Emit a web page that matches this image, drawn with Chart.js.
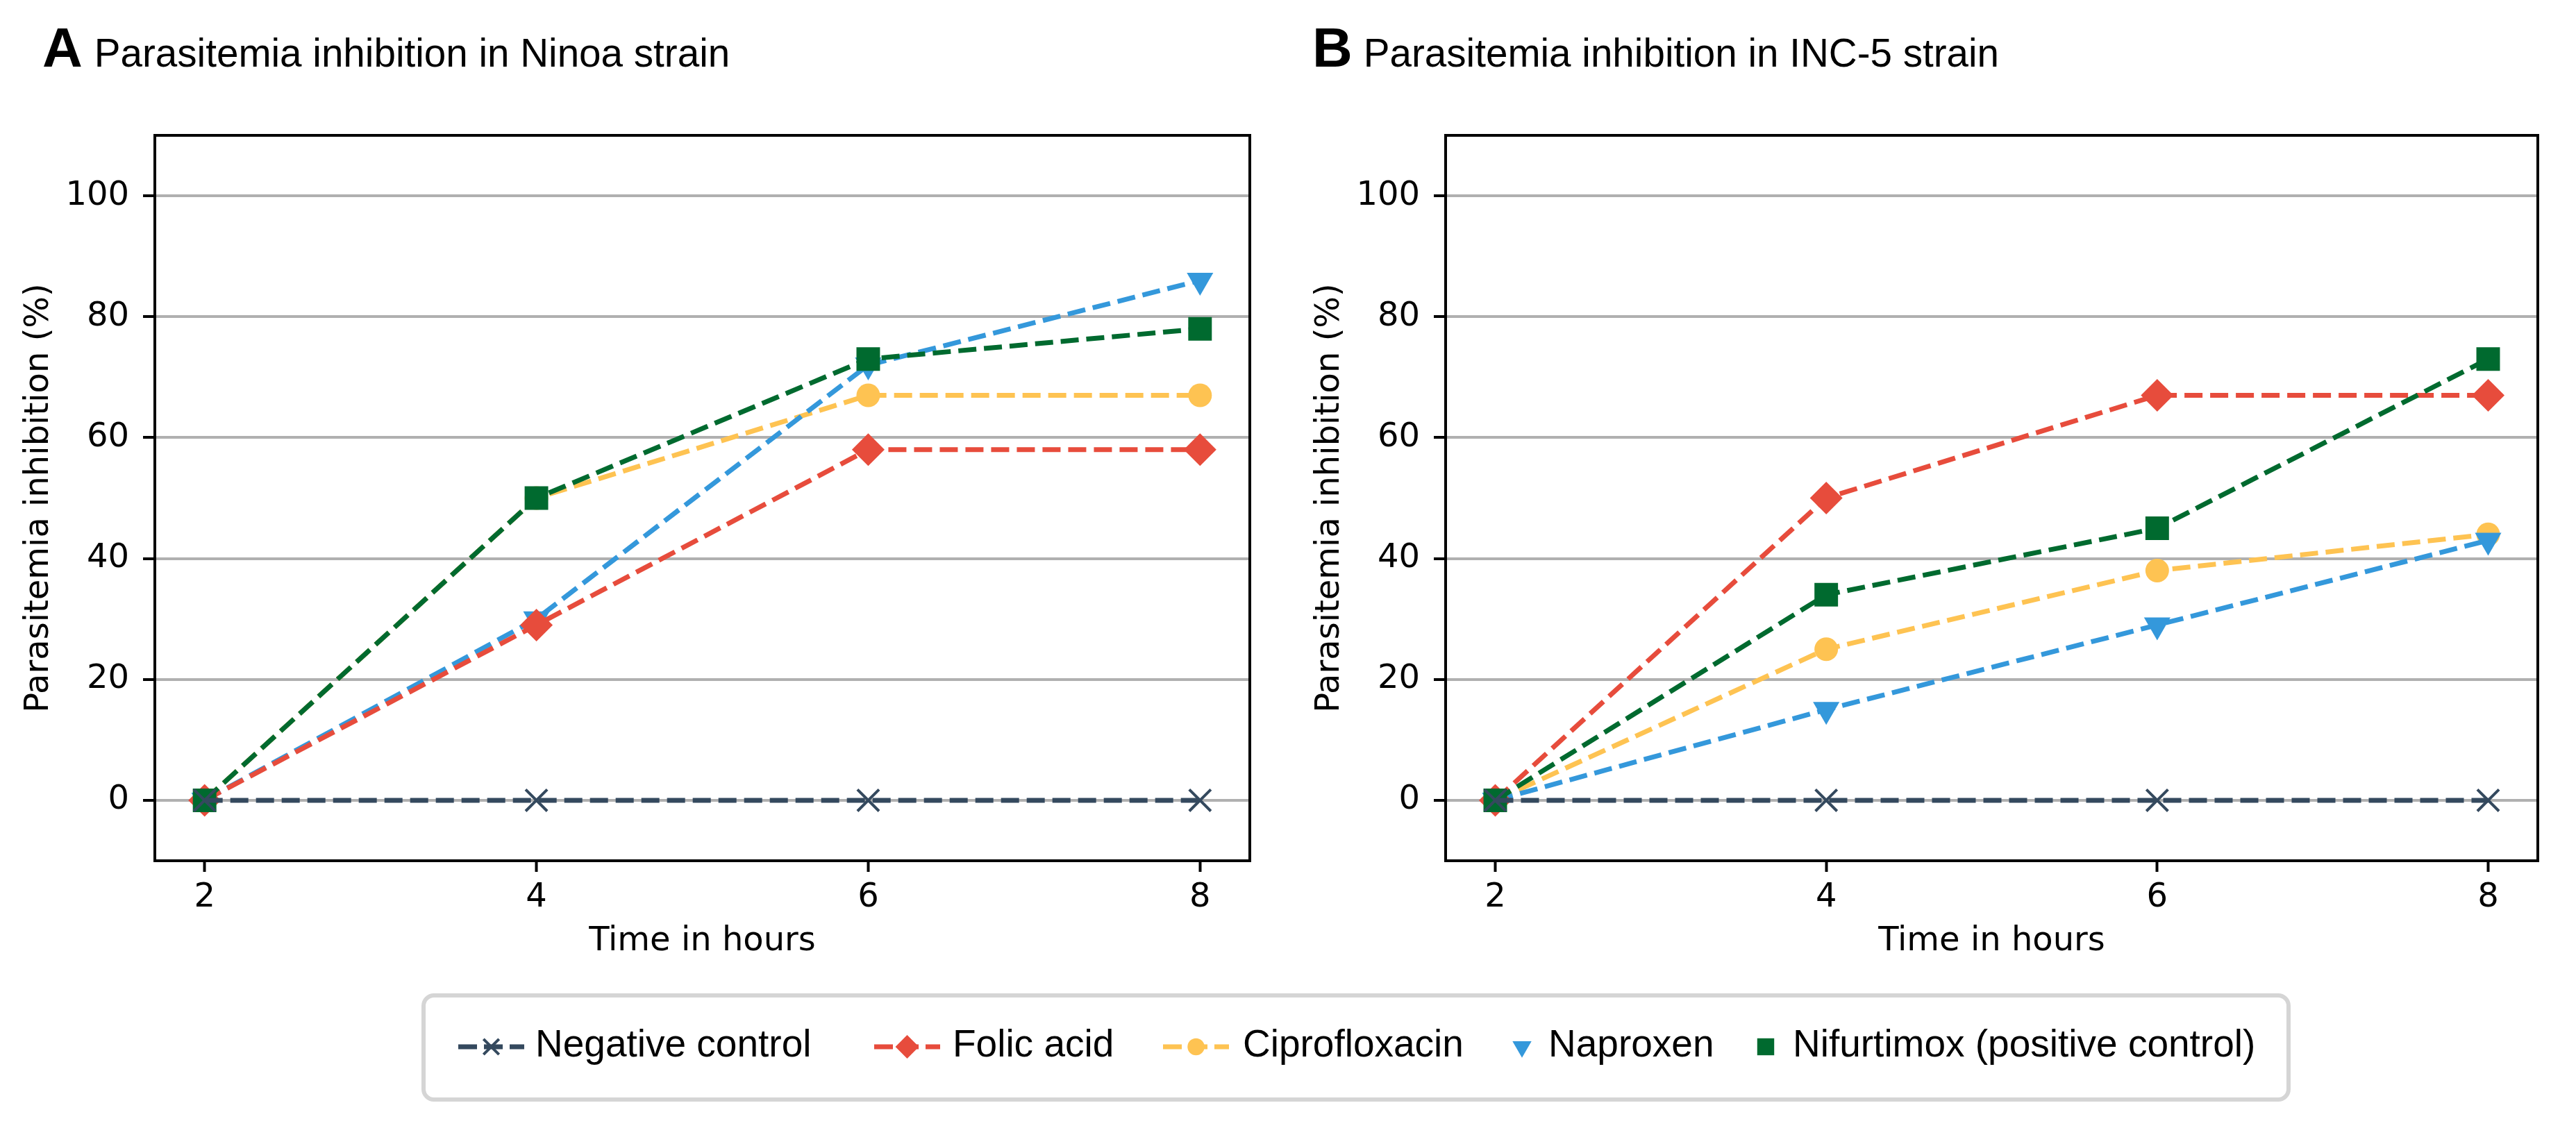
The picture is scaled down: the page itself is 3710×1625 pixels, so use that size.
<!DOCTYPE html>
<html>
<head>
<meta charset="utf-8">
<script src="https://cdn.jsdelivr.net/npm/chart.js@4.4.1/dist/chart.umd.min.js"></script>
<style>
  html, body { margin: 0; padding: 0; background: #fff; }
  body { width: 3710px; height: 1625px; position: relative; overflow: hidden; }
  canvas.panel { position: absolute; top: 0; }
  .title { position: absolute; top: 29px; white-space: nowrap; font-family: "Liberation Sans", Arial, sans-serif;
           font-size: 80px; line-height: 80px; color: #000; }
  .title b { font-weight: bold; }
  .title span { font-size: 56.6px; }
  .legend-box { position: absolute; left: 607px; top: 1431px; width: 2692px; height: 156px; box-sizing: border-box;
                border: 6px solid #d5d5d5; border-radius: 18px; }
  .leg-icon { position: absolute; top: 1478px; height: 60px; }
  .leg-text { position: absolute; top: 1476px; font-family: "Liberation Sans", Arial, sans-serif; font-size: 55px;
              line-height: 55px; white-space: nowrap; color: #000; }
</style>
</head>
<body>
<div class="title" style="left:61px"><b>A</b><span style="margin-left:17px">Parasitemia inhibition in Ninoa strain</span></div>
<div class="title" style="left:1890px"><b>B</b><span style="margin-left:16px">Parasitemia inhibition in INC-5 strain</span></div>

<canvas id="chartNinoa" class="panel" width="1855" height="1400" style="left:0px"></canvas>
<canvas id="chartInc5" class="panel" width="1851" height="1400" style="left:1859px"></canvas>

<div class="legend-box"></div>
<canvas class="leg-icon" id="leg0" width="95" height="60" style="left:660px"></canvas>
<div class="leg-text" id="legText0" style="left:771px"></div>
<canvas class="leg-icon" id="leg1" width="95" height="60" style="left:1259px"></canvas>
<div class="leg-text" id="legText1" style="left:1372px"></div>
<canvas class="leg-icon" id="leg2" width="95" height="60" style="left:1675px"></canvas>
<div class="leg-text" id="legText2" style="left:1790px"></div>
<canvas class="leg-icon" id="leg3" width="60" height="60" style="left:2162px"></canvas>
<div class="leg-text" id="legText3" style="left:2230px"></div>
<canvas class="leg-icon" id="leg4" width="60" height="60" style="left:2513px"></canvas>
<div class="leg-text" id="legText4" style="left:2582px"></div>

<script>
// time points and axis ticks
const hours = [2, 4, 6, 8];
const xTicks = [2, 4, 6, 8];
const yTicks = [0, 20, 40, 60, 80, 100];

const seriesNames = ["Negative control", "Folic acid", "Ciprofloxacin", "Naproxen", "Nifurtimox (positive control)"];

// Ninoa strain (%)
const ninoaNegative = [0, 0, 0, 0];
const ninoaFolic = [0, 29, 58, 58];
const ninoaCipro = [0, 50, 67, 67];
const ninoaNaproxen = [0, 30, 72, 86];
const ninoaNifurtimox = [0, 50, 73, 78];

// INC-5 strain (%)
const incNegative = [0, 0, 0, 0];
const incFolic = [0, 50, 67, 67];
const incCipro = [0, 25, 38, 44];
const incNaproxen = [0, 15, 29, 43];
const incNifurtimox = [0, 34, 45, 73];

// look of each series, same order as seriesNames
var styles = [
  { color: "#34495e", pointStyle: "crossRot", radius: 22, rotation: 0, border: 4, order: 1, legendLine: true },
  { color: "#e74c3c", pointStyle: "rectRot", radius: 23.5, rotation: 0, border: 0, order: 3, legendLine: true },
  { color: "#fec352", pointStyle: "circle", radius: 17, rotation: 0, border: 0, order: 5, legendLine: true },
  { color: "#3498db", pointStyle: "triangle", radius: 22, rotation: 180, border: 0, order: 4, legendLine: false },
  { color: "#006a2f", pointStyle: "rect", radius: 24, rotation: 0, border: 0, order: 2, legendLine: false },
];

var tickFont = { family: "'DejaVu Sans', sans-serif", size: 48 };

var framePlugin = {
  id: "frame",
  afterDatasetsDraw: function (chart) {
    var a = chart.chartArea;
    var ctx = chart.ctx;
    ctx.save();
    ctx.strokeStyle = "#000";
    ctx.lineWidth = 4;
    ctx.strokeRect(a.left, a.top, a.right - a.left, a.bottom - a.top);
    ctx.restore();
  },
};

function buildDatasets(valueLists) {
  return valueLists.map(function (values, i) {
    var s = styles[i];
    return {
      label: seriesNames[i],
      data: hours.map(function (h, j) { return { x: h, y: values[j] }; }),
      borderColor: s.color,
      backgroundColor: s.color,
      borderWidth: 7,
      borderDash: [26, 11],
      borderCapStyle: "butt",
      pointStyle: s.pointStyle,
      pointRadius: s.radius,
      pointHoverRadius: s.radius,
      pointRotation: s.rotation,
      pointBorderWidth: s.border,
      pointBorderColor: s.color,
      pointBackgroundColor: s.color,
      tension: 0,
      order: s.order,
      clip: false,
    };
  });
}

function makeChart(id, valueLists) {
  var ctx = document.getElementById(id).getContext("2d");
  return new Chart(ctx, {
    type: "line",
    data: { datasets: buildDatasets(valueLists) },
    options: {
      responsive: false,
      animation: false,
      devicePixelRatio: 1,
      layout: { padding: { left: 28, top: 195, right: 55, bottom: 15 } },
      plugins: { legend: { display: false }, tooltip: { enabled: false }, title: { display: false } },
      scales: {
        x: {
          type: "linear",
          min: 1.7,
          max: 8.3,
          afterBuildTicks: function (scale) { scale.ticks = xTicks.map(function (v) { return { value: v }; }); },
          afterFit: function (scale) { scale.height = 145; },
          border: { display: false },
          grid: { drawOnChartArea: false, drawTicks: true, tickLength: 16, tickColor: "#000", tickWidth: 4 },
          ticks: { font: tickFont, color: "#000", padding: 9, maxRotation: 0, callback: function (v) { return String(v); } },
          title: { display: true, text: "Time in hours", font: tickFont, color: "#000", padding: 0 },
        },
        y: {
          type: "linear",
          min: -10,
          max: 110,
          afterBuildTicks: function (scale) { scale.ticks = yTicks.map(function (v) { return { value: v }; }); },
          afterFit: function (scale) { scale.width = 195; },
          border: { display: false },
          grid: { color: "#b0b0b0", lineWidth: 4, drawTicks: true, tickLength: 17, tickColor: "#000", tickWidth: 4 },
          ticks: { font: tickFont, color: "#000", padding: 20, callback: function (v) { return String(v); } },
          title: { display: true, text: "Parasitemia inhibition (%)", font: tickFont, color: "#000", padding: 0 },
        },
      },
    },
    plugins: [framePlugin],
  });
}

makeChart("chartNinoa", [ninoaNegative, ninoaFolic, ninoaCipro, ninoaNaproxen, ninoaNifurtimox]);
makeChart("chartInc5", [incNegative, incFolic, incCipro, incNaproxen, incNifurtimox]);

// shared legend under both panels
for (var i = 0; i < seriesNames.length; i++) {
  var s = styles[i];
  var cv = document.getElementById("leg" + i);
  var c = cv.getContext("2d");
  var cy = cv.height / 2;
  if (s.legendLine) {
    c.strokeStyle = s.color;
    c.lineWidth = 7;
    c.setLineDash([27, 10]);
    c.beginPath();
    c.moveTo(0, cy);
    c.lineTo(cv.width, cy);
    c.stroke();
    c.setLineDash([]);
  }
  c.fillStyle = s.color;
  c.strokeStyle = s.color;
  c.lineWidth = s.border;
  Chart.helpers.drawPoint(c, {
    pointStyle: s.pointStyle,
    radius: s.radius * 0.72,
    rotation: s.rotation,
    borderWidth: s.border,
  }, cv.width / 2, cy);
  document.getElementById("legText" + i).textContent = seriesNames[i];
}
</script>
</body>
</html>
